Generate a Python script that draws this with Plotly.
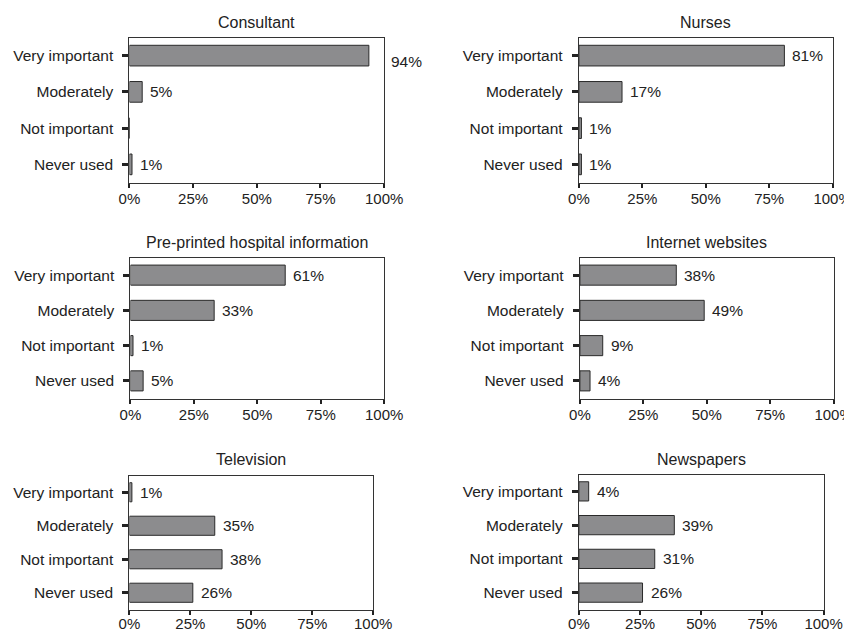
import plotly.graph_objects as go

categories = ["Very important", "Moderately", "Not important", "Never used"]
titles = ["Consultant", "Nurses", "Pre-printed hospital information",
          "Internet websites", "Television", "Newspapers"]
consultant = [94, 5, 0, 1]
nurses = [81, 17, 1, 1]
preprinted = [61, 33, 1, 5]
internet = [38, 49, 9, 4]
television = [1, 35, 38, 26]
newspapers = [4, 39, 31, 26]
series = [consultant, nurses, preprinted, internet, television, newspapers]
tick_vals = [0, 25, 50, 75, 100]
tick_text = ["0%", "25%", "50%", "75%", "100%"]

W, H = 852, 632
# panel boxes on screen (left, right, top, bottom) in pixels
boxes = [
    (128, 383, 37, 182), (578, 832, 37, 182),
    (129, 383, 257, 398), (579, 833, 257, 398),
    (128, 372, 475, 609), (578, 823, 474, 609),
]
label_standoff = [-2, -2, -2, -2, -4, -4]
# measured mapping between paper fraction and screen pixels in the viewer
OX, SXW = 17.4, 0.966 * W
OY, SYH = 7.5, H


def fx(px):
    return (px - OX) / SXW


def fy(py):
    return 1 - (py - OY) / SYH


FONT = "Liberation Sans, Arial, Helvetica, sans-serif"
INK = "#222222"
fig = go.Figure()
annotations = []
layout = {}
for i, (vals, title, (l, r, t, b)) in enumerate(zip(series, titles, boxes)):
    n = i + 1
    xa = "x" if n == 1 else f"x{n}"
    ya = "y" if n == 1 else f"y{n}"
    fig.add_trace(go.Bar(
        x=vals, y=categories, orientation="h", xaxis=xa, yaxis=ya,
        marker=dict(color="#8c8c8e", line=dict(color="#2a2a2a", width=1)),
        width=0.57, showlegend=False, hoverinfo="skip",
    ))
    common = dict(showline=True, linecolor="#333333", linewidth=1.3, mirror=True,
                  ticks="outside", tickcolor=INK, showgrid=False, zeroline=False)
    layout[("xaxis" if n == 1 else f"xaxis{n}")] = dict(
        domain=[fx(l), fx(r)], anchor=ya, range=[0, 100], tickvals=tick_vals,
        ticktext=tick_text, ticklen=4, tickwidth=1.5,
        ticklabelstandoff=label_standoff[i],
        tickfont=dict(family=FONT, size=15, color=INK), **common)
    layout[("yaxis" if n == 1 else f"yaxis{n}")] = dict(
        domain=[fy(b), fy(t)], anchor=xa, type="category",
        categoryorder="array", categoryarray=categories, autorange="reversed",
        ticklen=6, tickwidth=2.5, ticklabelstandoff=6,
        tickfont=dict(family=FONT, size=15.5, color=INK), **common)
    annotations.append(dict(
        text=title, xref="paper", yref="paper", x=fx((l + r) / 2),
        y=fy(t), yshift=5, xanchor="center", yanchor="bottom", showarrow=False,
        font=dict(family=FONT, size=16, color=INK)))
    for cat, v in zip(categories, vals):
        if v <= 0:
            continue
        xs, ys = 6, 0
        if v > 90:
            xs, ys = 20, -6
        annotations.append(dict(
            text=f"{v}%", x=v, y=cat, xref=xa, yref=ya, xanchor="left",
            yanchor="middle", xshift=xs, yshift=ys, showarrow=False,
            font=dict(family=FONT, size=15.5, color=INK)))

fig.update_layout(
    width=W, height=H, margin=dict(l=0, r=0, t=0, b=0),
    paper_bgcolor="white", plot_bgcolor="white",
    annotations=annotations, **layout)
fig.write_html("out.html")
